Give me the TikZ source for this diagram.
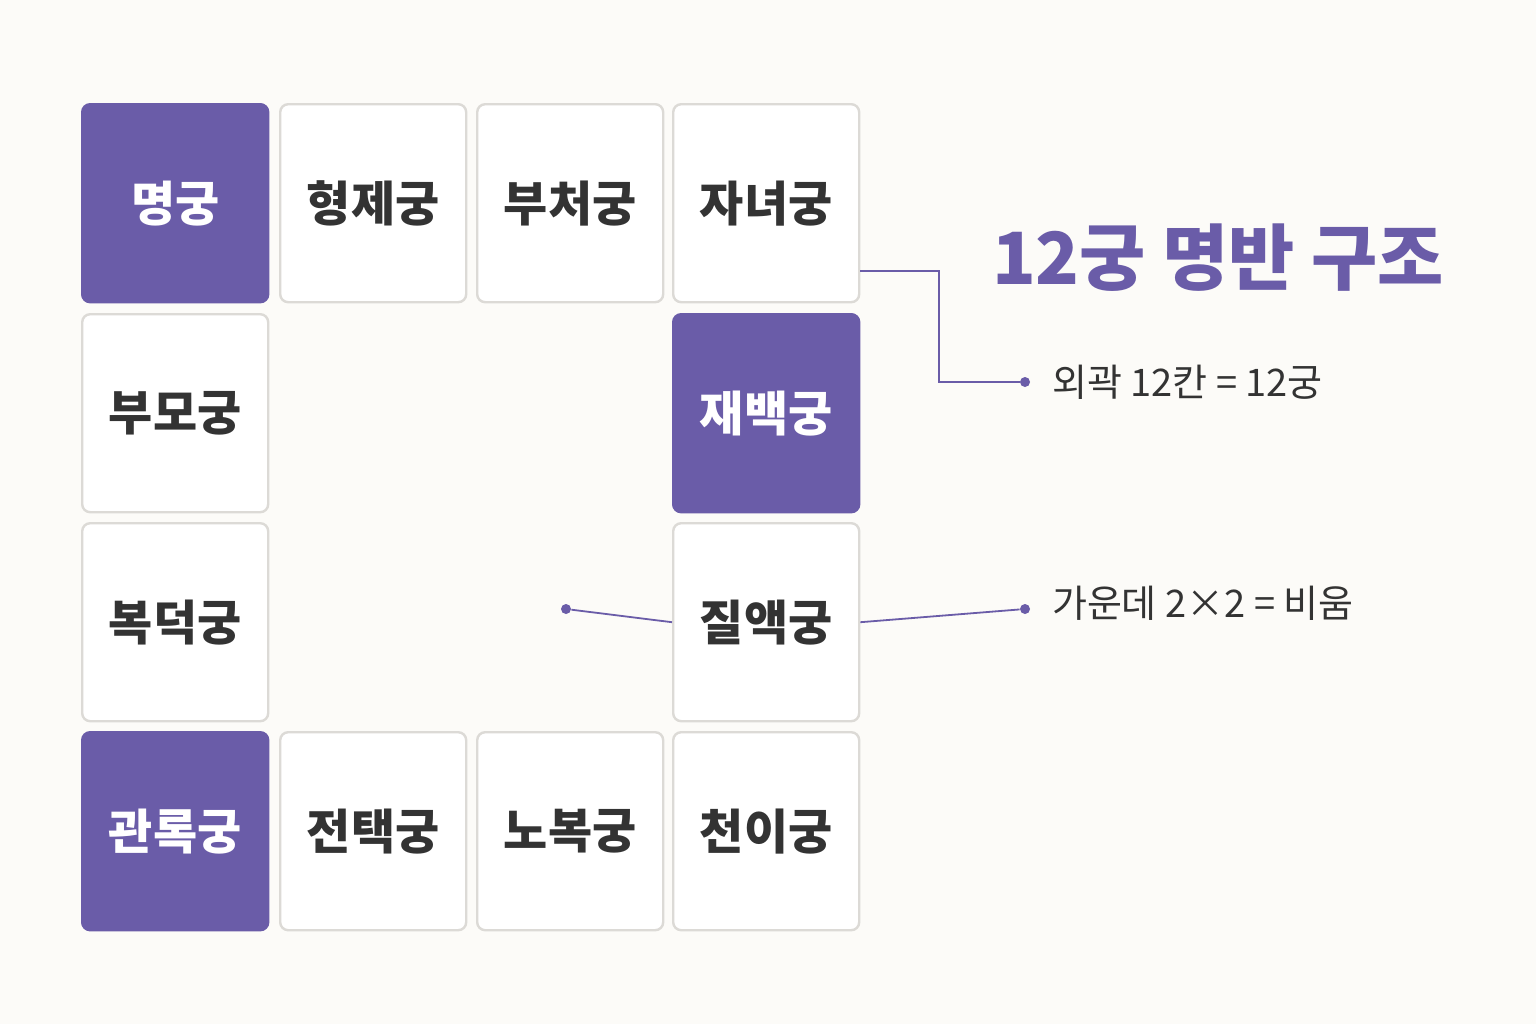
\documentclass[tikz,border=0pt]{standalone}
\usepackage{fontspec}
\setmainfont{Noto Sans CJK KR}
\newfontfamily\kb{Noto Sans CJK KR}[BoldFont={* Bold}]
\definecolor{pp}{HTML}{6A5CA8}
\definecolor{bg}{HTML}{FCFBF8}
\definecolor{bd}{HTML}{DCDAD6}
\definecolor{tx}{HTML}{333333}
\begin{document}
\begin{tikzpicture}[x=0.5pt,y=-0.5pt,
 cell/.style={draw=bd,line width=1.2pt,fill=white,rounded corners=4pt,minimum width=93pt,minimum height=99pt,font=\fontsize{24}{28}\selectfont\bfseries,text=tx,anchor=north west,inner sep=0pt},
 hl/.style={cell,fill=pp,draw=pp,text=white},
 ln/.style={pp,line width=0.9pt},
 dot/.style={circle,fill=pp,inner sep=0pt,minimum size=5pt},
 lab/.style={font=\fontsize{19}{22}\selectfont,text=tx,anchor=west}]
\fill[bg] (0,0) rectangle (1536,1024);
\useasboundingbox (0,0) rectangle (1536,1024);
\node[hl] (c00) at (81,103) {명궁};
\node[cell] (c10) at (279,103) {형제궁};
\node[cell] (c20) at (476,103) {부처궁};
\node[cell] (c30) at (672,103) {자녀궁};
\node[cell] (c01) at (81,313) {부모궁};
\node[hl] (c31) at (672,313) {재백궁};
\node[cell] (c02) at (81,522) {복덕궁};
\node[cell] (c32) at (672,522) {질액궁};
\node[hl] (c03) at (81,731) {관록궁};
\node[cell] (c13) at (279,731) {전택궁};
\node[cell] (c23) at (476,731) {노복궁};
\node[cell] (c33) at (672,731) {천이궁};
\node[font=\fontsize{36}{40}\selectfont\bfseries,text=pp] (title) at (1218,258) {12궁 명반 구조};
\node[dot] (d1) at (1025,382) {};
\node[dot] (d2) at (1025,609) {};
\node[dot] (d3) at (566,609) {};
\node[lab] (l1) at (1045,382) {외곽 12칸 = 12궁};
\node[lab] (l2) at (1045,603) {가운데 2×2 = 비움};
\draw[ln] (c30.north east |- 0,271) -- (939,271) -- (939,382) -- (d1);
\draw[ln] (c32.east) -- (d2);
\draw[ln] (c32.west) -- (d3);
\end{tikzpicture}
\end{document}
